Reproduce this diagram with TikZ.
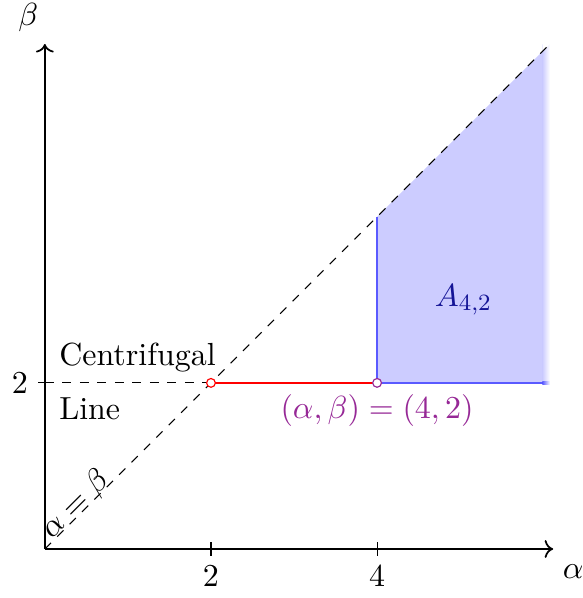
\documentclass[tikz,border=0pt]{standalone}
\usetikzlibrary{arrows.meta}
\definecolor{pt}{RGB}{150,40,150}
\definecolor{fillb}{RGB}{204,204,255}
\definecolor{lineb}{RGB}{90,90,255}
\definecolor{labb}{RGB}{20,20,150}
\begin{document}
\begin{tikzpicture}[x=1cm,y=1cm,
  every node/.style={font=\fontsize{10.95}{13.6}\selectfont},
  axis/.style={semithick,->},
  dline/.style={dashed,thin},
  bline/.style={lineb,semithick},
  opendot/.style={circle,draw,fill=white,inner sep=0pt,minimum size=3pt,thin}]
\useasboundingbox (-0.54,-0.59) rectangle (6.47,6.61);
% shaded region
\fill[fillb] (4,2) -- (4,4) -- (6.0,6.0) -- (6.0,2) -- cycle;
\shade[left color=fillb,right color=white] (5.99,2) rectangle (6.08,6.08);
\fill[white] (5.99,5.99) -- (6.1,6.1) -- (5.99,6.1) -- cycle;
% lines
\draw[bline] (4,2) -- (4,4);
\draw[bline] (4,2) -- (6.0,2);
\shade[left color=lineb,right color=white] (5.99,1.985) rectangle (6.08,2.015);
\draw[dline] (0,0) -- (6.08,6.08);
\draw[dline] (0,2) -- (2,2);
\draw[red,semithick] (2,2) -- (4,2);
% axes
\coordinate (O) at (0,0);
\coordinate (xe) at (6.12,0);
\coordinate (ye) at (0,6.08);
\draw[axis] (O) -- (xe);
\draw[axis] (O) -- (ye);
\node (al) at (6.36,-0.27) {$\alpha$};
\node (be) at (-0.2,6.4) {$\beta$};
% ticks
\foreach \x in {2,4} {\draw[thin] (\x,0.08) -- (\x,-0.08) node[below] {$\x$};}
\draw[thin] (0.08,2) -- (-0.08,2) node[left] {$2$};
% points
\node[opendot,draw=red] (p2) at (2,2) {};
\node[opendot,draw=pt] (p4) at (4,2) {};
% labels
\node[anchor=west] (cf) at (0.05,2.31) {Centrifugal};
\node[anchor=west] (ln) at (0.05,1.69) {Line};
\node[rotate=45] (ab) at (0.37,0.53) {$\alpha=\beta$};
\node[text=pt] (pl) at (4,1.67) {$(\alpha,\beta)=(4,2)$};
\node[text=labb] (A) at (5.04,3.0) {$A_{4,2}$};
\end{tikzpicture}
\end{document}
